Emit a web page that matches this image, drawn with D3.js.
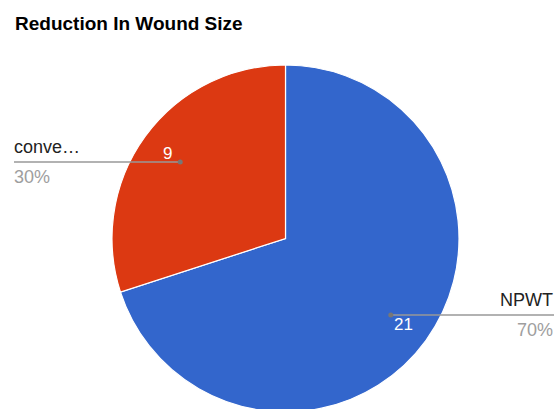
<!DOCTYPE html>
<html>
<head>
<meta charset="utf-8">
<script src="https://cdn.jsdelivr.net/npm/d3@7"></script>
<style>
  body { margin: 0; background: #fff; }
  svg { display: block; font-family: "Liberation Sans", Arial, sans-serif; }
</style>
</head>
<body>
<svg id="chart"></svg>
<script>
// Chart data
var title = "Reduction In Wound Size";
var categories = ["NPWT", "conventional"];
var shortLabels = ["NPWT", "conve\u2026"];
var values = [21, 9];
var colors = ["#3366cc", "#dc3912"];

var width = 554;
var height = 409;
var cx = 285.5, cy = 238.5, radius = 173.5;

var svg = d3.select("#chart")
            .attr("width", width)
            .attr("height", height);

svg.append("text")
   .attr("x", 15)
   .attr("y", 30)
   .attr("font-size", 19)
   .attr("font-weight", "bold")
   .attr("fill", "#000")
   .text(title);

var pie = d3.pie().sort(null).value(d => d);
var arcs = pie(values);
var total = d3.sum(values);

var arc = d3.arc().innerRadius(0).outerRadius(radius);
var dotArc = d3.arc().innerRadius(radius * 0.75).outerRadius(radius * 0.75);
var valueArc = d3.arc().innerRadius(radius * 0.84).outerRadius(radius * 0.84);

var g = svg.append("g")
           .attr("transform", `translate(${cx},${cy})`);

g.selectAll(".slice")
 .data(arcs)
 .enter().append("path")
 .attr("class", "slice")
 .attr("d", arc)
 .attr("fill", (d, i) => colors[i])
 .attr("stroke", "#fff")
 .attr("stroke-width", 1.2);

// value labels inside slices
g.selectAll(".value")
 .data(arcs)
 .enter().append("text")
 .attr("class", "value")
 .attr("x", d => valueArc.centroid(d)[0])
 .attr("y", d => valueArc.centroid(d)[1] + 6)
 .attr("text-anchor", "middle")
 .attr("font-size", 17)
 .attr("fill", "#fff")
 .text(d => d.data);

// leader lines out to the side labels
arcs.forEach(function(d, i) {
  var p = dotArc.centroid(d);
  var right = p[0] > 0;
  var endX = right ? width - cx : 14 - cx;
  var lg = g.append("g");
  lg.append("line")
    .attr("x1", p[0]).attr("y1", p[1])
    .attr("x2", endX).attr("y2", p[1])
    .attr("stroke", "#999")
    .attr("stroke-width", 1.3);
  lg.append("circle")
    .attr("cx", p[0]).attr("cy", p[1])
    .attr("r", 2.5)
    .attr("fill", "#777");
  var tx = right ? width - 1 - cx : 14 - cx;
  var anchor = right ? "end" : "start";
  lg.append("text")
    .attr("x", tx).attr("y", p[1] - 9)
    .attr("text-anchor", anchor)
    .attr("font-size", 18)
    .attr("fill", "#222")
    .text(shortLabels[i]);
  lg.append("text")
    .attr("x", tx).attr("y", p[1] + 21)
    .attr("text-anchor", anchor)
    .attr("font-size", 18)
    .attr("fill", "#9e9e9e")
    .text(Math.round(d.data / total * 100) + "%");
});
</script>
</body>
</html>
